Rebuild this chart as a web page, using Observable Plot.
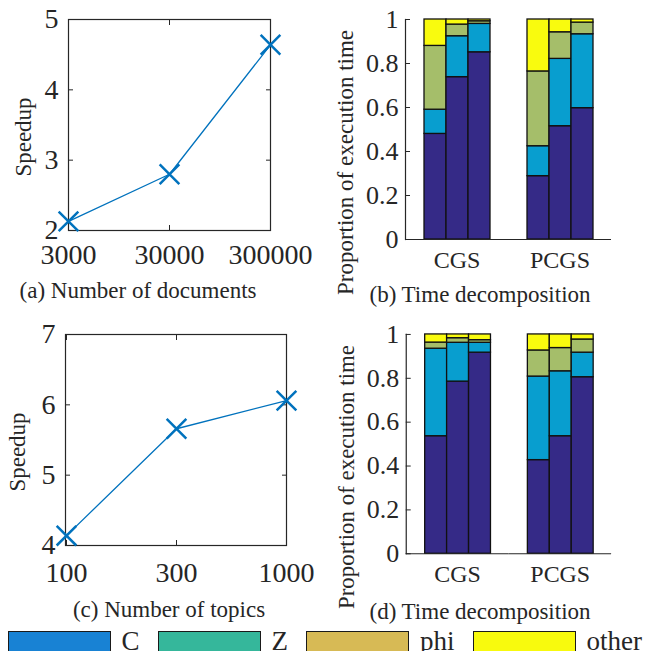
<!DOCTYPE html>
<html><head><meta charset="utf-8">
<script src="https://cdn.jsdelivr.net/npm/d3@7"></script>
<script src="https://cdn.jsdelivr.net/npm/@observablehq/plot@0.6"></script>
<style>
body{margin:0;background:#fff;}
#root{position:relative;width:647px;height:651px;overflow:hidden;font-family:"Liberation Serif","Times New Roman",serif;color:#262626;}
.panel{position:absolute;}
.cap{position:absolute;font-size:23px;line-height:23px;white-space:nowrap;transform:translateX(-50%);}
#legend{position:absolute;left:7.5px;top:631px;display:flex;align-items:flex-start;}
.lbox{width:103px;height:26px;box-sizing:border-box;border:1.5px solid #1a1a1a;margin-right:11px;}
.ltxt{font-size:27px;line-height:27px;margin-top:-3px;margin-right:18px;white-space:nowrap;}
</style></head><body><div id="root"></div>
<script>
// ---- data ----
const docs = ["3000", "30000", "300000"];
const speedupDocs = [2.13, 2.80, 4.64];
const topics = ["100", "300", "1000"];
const speedupTopics = [4.14, 5.66, 6.06];
const yTicksA = [2, 3, 4, 5];
const yTicksC = [4, 5, 6, 7];
const yTicksBar = [0, 0.2, 0.4, 0.6, 0.8, 1];
const methods = ["CGS", "PCGS"];
const barIdx = [0, 1, 2];
const components = ["C", "Z", "phi", "other"];
const barColors = ["#352A87", "#089ECF", "#A5BE6A", "#F9FB0E"];
const legendColors = ["#1882D4", "#35B79B", "#D7BA55", "#F8FA0D"];
// (b) segment proportions, order: CGS bar1..3, PCGS bar1..3
const bC     = [0.480, 0.738, 0.851, 0.288, 0.515, 0.597];
const bZ     = [0.110, 0.186, 0.129, 0.136, 0.306, 0.336];
const bPhi   = [0.290, 0.053, 0.012, 0.340, 0.121, 0.053];
const bOther = [0.120, 0.023, 0.008, 0.236, 0.058, 0.014];
// (d)
const dC     = [0.536, 0.785, 0.917, 0.427, 0.536, 0.805];
const dZ     = [0.399, 0.177, 0.045, 0.381, 0.296, 0.112];
const dPhi   = [0.028, 0.021, 0.012, 0.119, 0.106, 0.060];
const dOther = [0.037, 0.017, 0.026, 0.073, 0.062, 0.023];

const INK = "#262626";
const FONT = "'Liberation Serif', 'Times New Roman', serif";
const baseStyle = {fontFamily: FONT, fontSize: "28px", color: INK, background: "transparent", overflow: "visible"};

function linePanel(cats, vals, yDomain, yTicks, o) {
  const rows = cats.map((c, i) => ({c, v: vals[i]}));
  return Plot.plot({
    width: 320, height: 280,
    marginLeft: o.ml, marginRight: o.mr, marginTop: 19, marginBottom: 50,
    style: baseStyle,
    x: {type: "point", domain: cats, padding: 0, axis: null},
    y: {domain: yDomain, axis: null},
    marks: [
      Plot.frame({stroke: INK, strokeWidth: 1.2}),
      Plot.axisX(cats, {anchor: "bottom", tickSize: -5, tickPadding: o.xpad, fontSize: 28, label: null, stroke: INK}),
      Plot.axisX(cats, {anchor: "top", tickSize: -5, tickFormat: () => "", label: null, stroke: INK}),
      Plot.axisY(yTicks, {anchor: "left", tickSize: -5, tickPadding: 15, fontSize: 28, tickFormat: d => String(d), label: null, stroke: INK}),
      Plot.axisY(yTicks, {anchor: "right", tickSize: -5, tickFormat: () => "", label: null, stroke: INK}),
      Plot.text(["Speedup"], {text: d => d, frameAnchor: "left", textAnchor: "middle", rotate: -90, dx: o.ldx, dy: 12, fontSize: 23, fill: INK}),
      Plot.line(rows, {x: "c", y: "v", stroke: "#0072BD", strokeWidth: 1.3}),
      Plot.dot(rows, {x: "c", y: "v", symbol: "times", r: 9, stroke: "#0072BD", strokeWidth: 2.5})
    ]
  });
}

function barPanel(C, Z, phi, other) {
  const series = [C, Z, phi, other];
  const rows = [];
  methods.forEach((m, mi) => barIdx.forEach((b, bi) => {
    const k = mi * 3 + bi;
    series.forEach((arr, ci) => rows.push({method: m, bar: b, comp: components[ci], value: arr[k]}));
  }));
  return Plot.plot({
    width: 327, height: 280,
    marginLeft: 85, marginRight: 36, marginTop: 19, marginBottom: 41,
    style: baseStyle,
    fx: {domain: methods, padding: 0, axis: null, label: null},
    x: {domain: barIdx, paddingInner: 0, paddingOuter: 0.8, axis: null},
    y: {domain: [0, 1], axis: null},
    color: {domain: components, range: barColors},
    marks: [
      Plot.barY(rows, {fx: "method", x: "bar", y: "value", fill: "comp", stroke: "#111", strokeWidth: 1.3}),
      Plot.ruleY([0], {stroke: INK, strokeWidth: 1.2}),
      Plot.frame({anchor: "left", facetAnchor: "left", stroke: INK, strokeWidth: 1.2}),
      Plot.axisY(yTicksBar, {anchor: "left", tickSize: -5, tickPadding: 12, fontSize: 26, tickFormat: d => String(d), label: null, stroke: INK}),
      Plot.axisFx({anchor: "bottom", tickSize: 0, tickPadding: 11, fontSize: 24, label: null}),
      Plot.text(["Proportion of execution time"], {text: d => d, fx: () => methods[0], frameAnchor: "left", textAnchor: "middle", rotate: -90, dx: -60, dy: 33, fontSize: 23, fill: INK})
    ]
  });
}

const root = document.getElementById("root");
function place(node, left, top) {
  const div = document.createElement("div");
  div.className = "panel";
  div.style.left = left + "px";
  div.style.top = top + "px";
  div.appendChild(node);
  root.appendChild(div);
}
function caption(text, cx, top) {
  const d = document.createElement("div");
  d.className = "cap";
  d.style.left = cx + "px";
  d.style.top = top + "px";
  d.textContent = text;
  root.appendChild(d);
}

place(linePanel(docs, speedupDocs, [2, 5], yTicksA, {ml: 68, mr: 50, xpad: 19, ldx: -44.5}), 0, 0);
place(barPanel(bC, bZ, bPhi, bOther), 320, 0);
place(linePanel(topics, speedupTopics, [4, 7], yTicksC, {ml: 65, mr: 34, xpad: 22, ldx: -48}), 0, 315);
place(barPanel(dC, dZ, dPhi, dOther), 321, 315);

caption("(a) Number of documents", 138, 279);
caption("(b) Time decomposition", 480, 283);
caption("(c) Number of topics", 169, 598);
caption("(d) Time decomposition", 480, 600);

const leg = document.createElement("div");
leg.id = "legend";
components.forEach((c, i) => {
  const b = document.createElement("div");
  b.className = "lbox";
  b.style.background = legendColors[i];
  const t = document.createElement("div");
  t.className = "ltxt";
  t.textContent = c;
  leg.appendChild(b);
  leg.appendChild(t);
});
root.appendChild(leg);
</script>
</body></html>
